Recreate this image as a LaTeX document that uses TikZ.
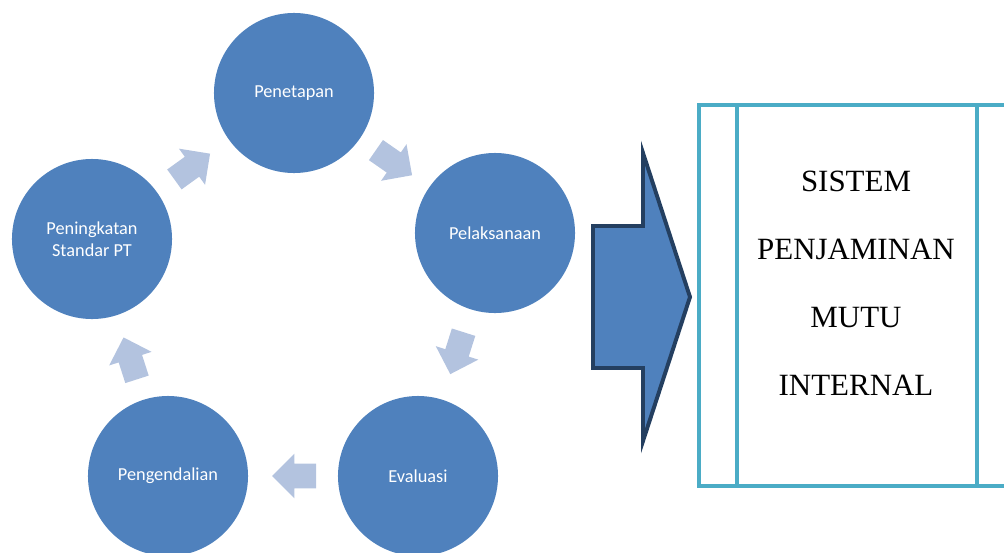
\documentclass[tikz,border=0pt]{standalone}
\usepackage{fontspec}
\setmainfont{Carlito}
\newfontfamily\spmifont{Liberation Serif}
\usetikzlibrary{shapes.arrows}
\definecolor{stageblue}{HTML}{4F81BD}
\definecolor{steplight}{HTML}{B3C3DF}
\definecolor{arrowedge}{HTML}{243F60}
\definecolor{boxline}{HTML}{4BACC6}

\begin{document}
\begin{tikzpicture}[x=0.025cm, y=-0.025cm,
    stage/.style={circle, fill=stageblue, minimum size=4cm, inner sep=0pt, align=center,
      text=white, font=\fontsize{13}{16}\selectfont},
    cyclearrow/.style={single arrow, fill=steplight, minimum height=1.1cm, minimum width=0pt,
      single arrow head extend=0.25cm, single arrow tip angle=90, inner xsep=0pt, inner ysep=0.3cm,
      sloped, allow upside down, pos=0.42}]
      \useasboundingbox (0,0) rectangle (1004,552);

      % siklus
      \node[stage] (penetapan) at (294,93) {Penetapan};
      \node[stage] (pelaksanaan) at (495,233) {Pelaksanaan};
      \node[stage] (evaluasi) at (418,476) {Evaluasi};
      \node[stage] (pengendalian) at (168,476) {Pengendalian};
      \node[stage] (peningkatan) at (92,239) {Peningkatan\\Standar PT};

      \path (penetapan) -- (pelaksanaan) node[cyclearrow] (a1) {};
      \path (pelaksanaan) -- (evaluasi) node[cyclearrow] (a2) {};
      \path (evaluasi) -- (pengendalian) node[cyclearrow] (a3) {};
      \path (pengendalian) -- (peningkatan) node[cyclearrow] (a4) {};
      \path (peningkatan) -- (penetapan) node[cyclearrow] (a5) {};

      % panah besar
      \draw[fill=stageblue, draw=arrowedge, line width=2.8pt]
        (593,226) -- (643,226) -- (643,153) -- (690,297) -- (643,441) -- (643,368) -- (593,368) -- cycle;

      % kotak SPMI
      \draw[boxline, line width=2.8pt] (699,105) rectangle (1030,486);
      \draw[boxline, line width=2.8pt] (737,105) -- (737,486);
      \draw[boxline, line width=2.8pt] (977,105) -- (977,486);
      \node[align=center, font=\spmifont\fontsize{22}{48.4}\selectfont] (spmi) at (856,283)
        {SISTEM\\PENJAMINAN\\MUTU\\INTERNAL};
    \end{tikzpicture}
\end{document}
